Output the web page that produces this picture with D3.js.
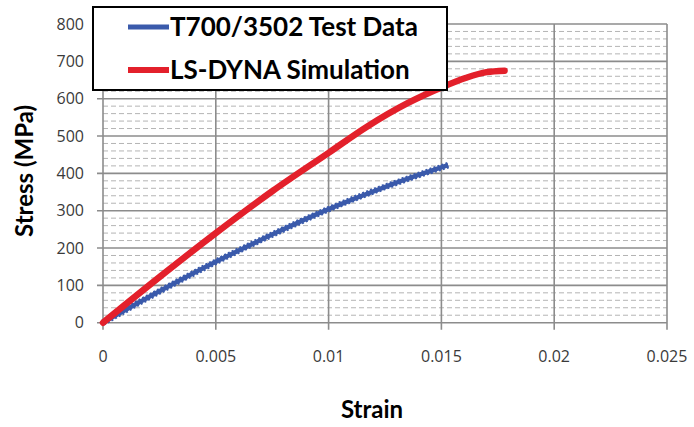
<!DOCTYPE html>
<html>
<head>
<meta charset="utf-8">
<script src="https://cdn.jsdelivr.net/npm/d3@7"></script>
<style>
  body { margin: 0; background: #fff; }
  svg { display: block; }
</style>
</head>
<body>
<script>
'use strict';

// test data (blue)
let testStrain = [0, 0.0025, 0.005, 0.0075, 0.01, 0.0126, 0.0153];
let testStress = [0, 84, 163, 236, 304, 366, 422];

// simulation (red)
let simStrain = [0, 0.0025, 0.005, 0.0075, 0.01, 0.0117, 0.0135, 0.015, 0.0161, 0.017, 0.0178];
let simStress = [0, 122, 240, 352, 455, 525, 588, 630, 656, 671, 675];

let xTicks = [0, 0.005, 0.01, 0.015, 0.02, 0.025];
let xTickLabels = ["0", "0.005", "0.01", "0.015", "0.02", "0.025"];
let yTicks = [0, 100, 200, 300, 400, 500, 600, 700, 800];
let yMinor = d3.range(0, 800, 20).filter(v => v % 100 != 0);

let seriesNames = ["T700/3502 Test Data", "LS-DYNA Simulation"];
let colors = { test: "#3a5aab", sim: "#e3202b" };

let svgContainer = d3.select('body')
  .append('svg')
  .attr('width', 694)
  .attr('height', 427);

let xScale = d3.scaleLinear().domain([0, 0.025]).range([103, 667]);
let yScale = d3.scaleLinear().domain([0, 800]).range([322.7, 24]);

// minor dashed gridlines
svgContainer.append('g').selectAll('line')
  .data(yMinor)
  .enter().append('line')
  .attr('x1', xScale(0)).attr('x2', xScale(0.025))
  .attr('y1', d => yScale(d)).attr('y2', d => yScale(d))
  .attr('stroke', '#b4b4b4')
  .attr('stroke-width', 1)
  .attr('stroke-dasharray', '5,3');

// major gridlines
svgContainer.append('g').selectAll('line')
  .data(yTicks)
  .enter().append('line')
  .attr('x1', xScale(0) - 6).attr('x2', xScale(0.025))
  .attr('y1', d => yScale(d)).attr('y2', d => yScale(d))
  .attr('stroke', '#8c8c8c')
  .attr('stroke-width', 1.6);

svgContainer.append('g').selectAll('line')
  .data(xTicks)
  .enter().append('line')
  .attr('x1', d => xScale(d)).attr('x2', d => xScale(d))
  .attr('y1', yScale(800)).attr('y2', yScale(0) + 7)
  .attr('stroke', '#8c8c8c')
  .attr('stroke-width', 1.6);

// tick labels
svgContainer.append('g').selectAll('text')
  .data(yTicks)
  .enter().append('text')
  .attr('x', 84)
  .attr('y', d => yScale(d) + 5.5)
  .attr('text-anchor', 'end')
  .style('font-family', '"Open Sans", sans-serif')
  .style('font-size', '16px')
  .attr('fill', '#3a3a3a')
  .text(d => d);

svgContainer.append('g').selectAll('text')
  .data(xTicks)
  .enter().append('text')
  .attr('x', d => xScale(d))
  .attr('y', 362)
  .attr('text-anchor', 'middle')
  .style('font-family', '"Open Sans", sans-serif')
  .style('font-size', '16px')
  .attr('fill', '#3a3a3a')
  .text((d, i) => xTickLabels[i]);

// axis titles
svgContainer.append('text')
  .attr('transform', 'translate(33, 171) rotate(-90)')
  .attr('text-anchor', 'middle')
  .style('font-family', 'Lato, sans-serif')
  .style('font-weight', 'bold')
  .style('font-size', '24px')
  .text('Stress (MPa)');

svgContainer.append('text')
  .attr('x', 372)
  .attr('y', 418)
  .attr('text-anchor', 'middle')
  .style('font-family', 'Lato, sans-serif')
  .style('font-weight', 'bold')
  .style('font-size', '24px')
  .text('Strain');

// curves
let line = d3.line()
  .x(d => xScale(d[0]))
  .y(d => yScale(d[1]))
  .curve(d3.curveMonotoneX);

let testData = testStrain.map((s, i) => [s, testStress[i]]);
let simData = simStrain.map((s, i) => [s, simStress[i]]);

svgContainer.append('path')
  .datum(testData)
  .attr('d', line)
  .attr('fill', 'none')
  .attr('stroke', colors.test)
  .attr('stroke-width', 4.5);

// beaded look of the dense markers
svgContainer.append('path')
  .datum(testData)
  .attr('d', line)
  .attr('fill', 'none')
  .attr('stroke', colors.test)
  .attr('stroke-width', 6.5)
  .attr('stroke-dasharray', '2,2.2');

svgContainer.append('path')
  .datum(simData)
  .attr('d', line)
  .attr('fill', 'none')
  .attr('stroke', colors.sim)
  .attr('stroke-width', 6.5)
  .attr('stroke-linecap', 'round');

// legend
svgContainer.append('rect')
  .attr('x', 93).attr('y', 7)
  .attr('width', 354).attr('height', 83)
  .attr('fill', '#fff')
  .attr('stroke', '#000')
  .attr('stroke-width', 2);

let legendColors = [colors.test, colors.sim];
let legendY = [27, 70];

svgContainer.selectAll('.legend-line')
  .data(seriesNames)
  .enter().append('line')
  .attr('class', 'legend-line')
  .attr('x1', 128).attr('x2', 169)
  .attr('y1', (d, i) => legendY[i]).attr('y2', (d, i) => legendY[i])
  .attr('stroke', (d, i) => legendColors[i])
  .attr('stroke-width', (d, i) => i == 0 ? 5 : 6);

svgContainer.selectAll('.legend-text')
  .data(seriesNames)
  .enter().append('text')
  .attr('class', 'legend-text')
  .attr('x', 170)
  .attr('y', (d, i) => legendY[i] + 9)
  .style('font-family', 'Lato, sans-serif')
  .style('font-weight', 'bold')
  .style('font-size', '26px')
  .text(d => d);
</script>
</body>
</html>
